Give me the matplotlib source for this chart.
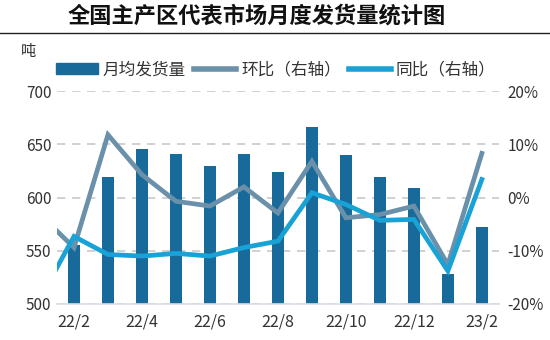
import numpy as np
import matplotlib
matplotlib.use("Agg")
import matplotlib.pyplot as plt
from matplotlib.patches import Patch
from matplotlib.lines import Line2D
from matplotlib.ticker import FuncFormatter, MultipleLocator

plt.rcParams['font.family'] = ['Noto Sans CJK SC', 'DejaVu Sans']

months = ["22/1", "22/2", "22/3", "22/4", "22/5", "22/6", "22/7", "22/8",
          "22/9", "22/10", "22/11", "22/12", "23/1", "23/2"]
shipments = [np.nan, 555, 619, 646, 641, 630, 641, 624, 666, 640, 619, 609, 528, 572]
mom_pct = [-3.2, -9.4, 11.8, 4.3, -0.7, -1.6, 2.0, -2.9, 6.8, -3.8, -3.2, -1.6, -12.6, 8.3]
yoy_pct = [-19.0, -7.3, -10.7, -11.0, -10.5, -11.0, -9.4, -8.2, 0.9, -1.3, -4.3, -4.1, -13.8, 3.4]

title = "全国主产区代表市场月度发货量统计图"
unit = "吨"
labels = ["月均发货量", "环比（右轴）", "同比（右轴）"]

bar_c = "#176a9a"
mom_c = "#6a90aa"
yoy_c = "#19a2d6"
txt_c = "#333333"

fig = plt.figure(figsize=(5.5, 3.4), dpi=100)
ax = fig.add_axes([0.1036, 0.106, 0.8034, 0.626])
ax2 = ax.twinx()

x = np.arange(len(months))
ax.bar(x, shipments, width=0.37, color=bar_c, zorder=2)
ax.set_ylim(500, 700)
ax.yaxis.set_major_locator(MultipleLocator(50))
ax.set_xlim(0.5, len(months) - 0.5)
ax.set_xticks(x[1::2])
ax.set_xticklabels(months[1::2])

ax.grid(axis='y', color='#c9c9c9', linestyle=(0, (5, 4)), linewidth=1.2, zorder=0)
ax.set_axisbelow(True)
for s in ['top', 'left', 'right']:
    ax.spines[s].set_visible(False)
    ax2.spines[s].set_visible(False)
ax2.spines['bottom'].set_visible(False)
ax.spines['bottom'].set_color('#d8dee6')
ax.spines['bottom'].set_linewidth(1.2)
ax.tick_params(axis='y', length=0, labelsize=11, colors=txt_c, pad=4)
ax.tick_params(axis='x', length=0, labelsize=11.5, colors=txt_c, pad=7)

ax2.plot(x, mom_pct, color=mom_c, lw=3.4, zorder=3, solid_joinstyle='miter')
ax2.plot(x, yoy_pct, color=yoy_c, lw=3.4, zorder=4, solid_joinstyle='miter')
ax2.set_ylim(-20, 20)
ax2.yaxis.set_major_locator(MultipleLocator(10))
ax2.yaxis.set_major_formatter(FuncFormatter(lambda v, p: f"{v:.0f}%"))
ax2.tick_params(axis='both', length=0, labelsize=11, colors=txt_c, pad=6)
ax2.set_xlim(0.5, len(months) - 0.5)

fig.text(0.466, 0.952, title, ha='center', va='center', fontsize=16,
         fontweight='bold', color='#111111')
fig.add_artist(Line2D([0, 1], [0.902, 0.902], color='#222222', lw=1.0,
                      transform=fig.transFigure))
fig.text(0.052, 0.848, unit, ha='center', va='center', fontsize=11, color=txt_c)

handles = [Patch(color=bar_c),
           Line2D([], [], color=mom_c, lw=4),
           Line2D([], [], color=yoy_c, lw=4)]
fig.legend(handles, labels, loc='center left', bbox_to_anchor=(0.075, 0.795),
           ncol=3, frameon=False, fontsize=12, handlelength=2.5,
           handleheight=0.6, handletextpad=0.3, columnspacing=0.5,
           labelcolor=txt_c)

fig.savefig("out.png", dpi=100)
